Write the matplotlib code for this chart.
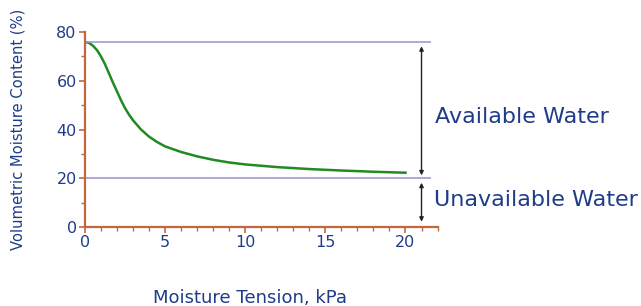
import matplotlib
matplotlib.use("Agg")
import matplotlib.pyplot as plt

# moisture release curve
tension_kpa = [0, 0.25, 0.5, 0.75, 1.0, 1.25, 1.5, 1.75, 2.0, 2.25, 2.5, 2.75, 3.0, 3.5, 4.0, 4.5,
               5.0, 6.0, 7.0, 8.0, 9.0, 10.0, 12.0, 14.0, 16.0, 18.0, 20.0]
moisture_pct = [76, 75.6, 74.4, 72.6, 70.0, 66.8, 63.0, 59.2, 55.6, 52.0, 48.8, 46.1, 43.8, 40.0, 37.1, 34.9,
                33.1, 30.8, 29.0, 27.6, 26.5, 25.7, 24.6, 23.8, 23.2, 22.7, 22.3]

field_capacity = 76
wilting_point = 20

x_ticks = [0, 5, 10, 15, 20]
y_ticks = [0, 20, 40, 60, 80]

txt_clr = "#1f3c88"
axis_clr = "#c0673f"
hline_clr = "#9c9cd2"
curve_clr = "#218a21"

fig = plt.figure(figsize=(6.41, 3.06), dpi=100)
ax = fig.add_axes([0.1326, 0.258, 0.55, 0.637])

ax.plot(tension_kpa, moisture_pct, color=curve_clr, linewidth=1.8)
ax.hlines([field_capacity, wilting_point], 0, 21.6, color=hline_clr, linewidth=1.2)

# arrows for the two water zones
arrow_x = 21.0
ax.annotate("", xy=(arrow_x, wilting_point + 1.2), xytext=(arrow_x, field_capacity - 1.8),
            arrowprops=dict(arrowstyle="<|-|>", color="#222222", lw=1.0,
                            mutation_scale=6, shrinkA=0, shrinkB=0),
            annotation_clip=False)
ax.annotate("", xy=(arrow_x, 2.2), xytext=(arrow_x, wilting_point - 1.8),
            arrowprops=dict(arrowstyle="<|-|>", color="#222222", lw=1.0,
                            mutation_scale=6, shrinkA=0, shrinkB=0),
            annotation_clip=False)

ax.text(21.85, 45, "Available Water", color=txt_clr, fontsize=16,
        va="center", ha="left", clip_on=False)
ax.text(21.8, 11.3, "Unavailable Water", color=txt_clr, fontsize=16,
        va="center", ha="left", clip_on=False)

ax.set_xlim(0, 22)
ax.set_ylim(0, 80)
ax.set_xticks(x_ticks)
ax.set_xticks(range(0, 23), minor=True)
ax.set_yticks(y_ticks)
ax.set_yticks(range(0, 81, 10), minor=True)

for side in ["top", "right"]:
    ax.spines[side].set_visible(False)
for side in ["left", "bottom"]:
    ax.spines[side].set_color(axis_clr)
    ax.spines[side].set_linewidth(1.6)

ax.tick_params(which="both", colors=axis_clr, labelcolor=txt_clr, direction="out")
ax.tick_params(which="major", length=4, width=1.2, labelsize=11.5, pad=2)
ax.tick_params(which="minor", length=3, width=1.0)

ax.set_ylabel("Volumetric Moisture Content (%)", color=txt_clr, fontsize=11.8,
              fontstretch="condensed", labelpad=22)
fig.text(0.39, 0.01, "Moisture Tension, kPa", color=txt_clr, fontsize=13,
         ha="center", va="baseline")

plt.savefig("out.png", dpi=100)
